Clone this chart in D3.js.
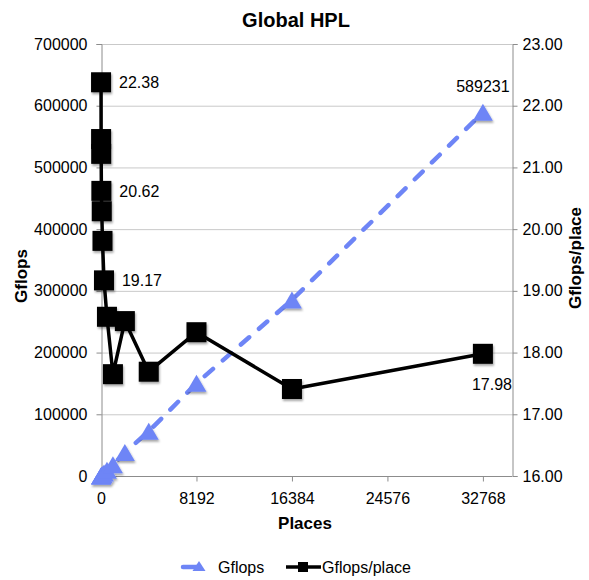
<!DOCTYPE html>
<html>
<head>
<meta charset="utf-8">
<script src="https://cdn.jsdelivr.net/npm/d3@7/dist/d3.min.js"></script>
<style>
  html, body { margin: 0; padding: 0; background: #fff; }
  svg { display: block; font-family: "Liberation Sans", Arial, Helvetica, sans-serif; }
</style>
</head>
<body>
<svg id="chart" width="589" height="580"></svg>
<script>
const places = [4, 8, 16, 32, 64, 128, 256, 512, 1024, 2048, 4096, 8192, 16384, 32768];
const gflopsPerPlace = [22.38, 21.46, 21.22, 20.62, 20.29, 19.81, 19.17, 18.58, 17.65, 18.51, 17.69, 18.33, 17.41, 17.98];
const gflops = [89.5, 171.7, 339.5, 659.8, 1298.6, 2535.7, 4907.5, 9513, 18074, 37908, 72458, 150159, 285245, 589231];
const xTicks = [0, 8192, 16384, 24576, 32768];
const leftTicks = [0, 100000, 200000, 300000, 400000, 500000, 600000, 700000];
const rightTicks = [16, 17, 18, 19, 20, 21, 22, 23];
const perPlaceLabelIdx = [0, 3, 6, 13];
const gflopsLabelIdx = [13];
const title = "Global HPL";

const svg = d3.select("#chart");
const L = 101, R = 512, T = 44, B = 476;
const x = d3.scaleLinear().domain([0, 35265]).range([L, R]);
const yL = d3.scaleLinear().domain([0, 700000]).range([B, T]);
const yR = d3.scaleLinear().domain([16, 23]).range([B, T]);

const blue = "#6e85f6";
const axisGray = "#8c8c8c";
const gridGray = "#c9c9c9";

// drop shadow filter
const defs = svg.append("defs");
const f = defs.append("filter").attr("id", "sh").attr("x", "-50%").attr("y", "-50%").attr("width", "200%").attr("height", "200%");
f.append("feDropShadow").attr("dx", 1).attr("dy", 2).attr("stdDeviation", 1).attr("flood-color", "#000").attr("flood-opacity", 0.35);

// gridlines
svg.append("g").selectAll("line").data(leftTicks.slice(1)).join("line")
  .attr("x1", L).attr("x2", R).attr("y1", d => yL(d) + 0.5).attr("y2", d => yL(d) + 0.5)
  .attr("stroke", gridGray).attr("stroke-width", 1);

// left axis
const gLeft = svg.append("g").attr("transform", `translate(${L + 0.5},0)`)
  .call(d3.axisLeft(yL).tickValues(leftTicks).tickSize(5).tickPadding(9).tickFormat(d3.format("d")));
// right axis
const gRight = svg.append("g").attr("transform", `translate(${R + 0.5},0)`)
  .call(d3.axisRight(yR).tickValues(rightTicks).tickSize(5).tickPadding(5).tickFormat(d3.format(".2f")));
// bottom axis
const gBottom = svg.append("g").attr("transform", `translate(0,${B + 0.5})`)
  .call(d3.axisBottom(x).tickValues(xTicks).tickSize(5).tickPadding(11).tickFormat(d3.format("d")));

[gLeft, gRight, gBottom].forEach(g => {
  g.select(".domain").attr("stroke", axisGray);
  g.selectAll(".tick line").attr("stroke", axisGray);
  g.selectAll(".tick text").attr("fill", "#000").style("font-size", "16px")
    .style("font-family", '"Liberation Sans", Arial, Helvetica, sans-serif');
});
gBottom.select(".domain").attr("d", `M${L},0H${R}`);

// Gflops series (blue dashed with triangles)
const lineL = d3.line().x((d, i) => x(places[i])).y(d => yL(d));
svg.append("path").datum(gflops).attr("d", lineL)
  .attr("fill", "none").attr("stroke", blue).attr("stroke-width", 4.5)
  .attr("stroke-dasharray", "11,13").attr("stroke-linecap", "round");

const tri = (cx, cy, w, h) => `M${cx},${cy - h / 2}L${cx + w / 2},${cy + h / 2}L${cx - w / 2},${cy + h / 2}Z`;
svg.append("g").attr("filter", "url(#sh)").selectAll("path").data(gflops).join("path")
  .attr("d", (d, i) => tri(x(places[i]), yL(d), 20, 17))
  .attr("fill", blue);

// Gflops/place series (black with squares)
const lineR = d3.line().x((d, i) => x(places[i])).y(d => yR(d));
svg.append("path").datum(gflopsPerPlace).attr("d", lineR)
  .attr("fill", "none").attr("stroke", "#000").attr("stroke-width", 3.5).attr("stroke-linejoin", "round");
svg.append("g").attr("filter", "url(#sh)").selectAll("rect").data(gflopsPerPlace).join("rect")
  .attr("x", (d, i) => x(places[i]) - 10).attr("y", d => yR(d) - 10)
  .attr("width", 20).attr("height", 20).attr("fill", "#000");

// data labels
svg.append("g").selectAll("text").data(perPlaceLabelIdx).join("text")
  .attr("x", i => i === 13 ? x(places[i]) - 11 : x(places[i]) + 18)
  .attr("y", i => i === 13 ? yR(gflopsPerPlace[i]) + 36 : yR(gflopsPerPlace[i]) + 6)
  .style("font-size", "16px").attr("fill", "#000")
  .text(i => gflopsPerPlace[i].toFixed(2));
svg.append("g").selectAll("text").data(gflopsLabelIdx).join("text")
  .attr("x", i => x(places[i]))
  .attr("y", i => yL(gflops[i]) - 20)
  .attr("text-anchor", "middle")
  .style("font-size", "16px").attr("fill", "#000")
  .text(i => String(gflops[i]));

// title
svg.append("text").attr("x", 296).attr("y", 27).attr("text-anchor", "middle")
  .style("font-size", "20px").style("font-weight", "bold").text(title);

// axis titles
svg.append("text").attr("transform", "translate(27,276) rotate(-90)").attr("text-anchor", "middle")
  .style("font-size", "17px").style("font-weight", "bold").text("Gflops");
svg.append("text").attr("transform", "translate(581,258) rotate(-90)").attr("text-anchor", "middle")
  .style("font-size", "17px").style("font-weight", "bold").text("Gflops/place");
svg.append("text").attr("x", 305).attr("y", 529).attr("text-anchor", "middle")
  .style("font-size", "17px").style("font-weight", "bold").text("Places");

// legend
const lg = svg.append("g");
const ly = 567;
lg.append("line").attr("x1", 183).attr("x2", 197).attr("y1", ly).attr("y2", ly)
  .attr("stroke", blue).attr("stroke-width", 4.5).attr("stroke-linecap", "round");
lg.append("path").attr("d", tri(199, ly - 1, 13, 10)).attr("fill", blue);
lg.append("text").attr("x", 218).attr("y", ly + 6).style("font-size", "16px").text("Gflops");
lg.append("line").attr("x1", 286).attr("x2", 321).attr("y1", ly).attr("y2", ly)
  .attr("stroke", "#000").attr("stroke-width", 3.5);
lg.append("rect").attr("x", 298).attr("y", ly - 5).attr("width", 10).attr("height", 10).attr("fill", "#000");
lg.append("text").attr("x", 322).attr("y", ly + 6).style("font-size", "16px").text("Gflops/place");
</script>
</body>
</html>
